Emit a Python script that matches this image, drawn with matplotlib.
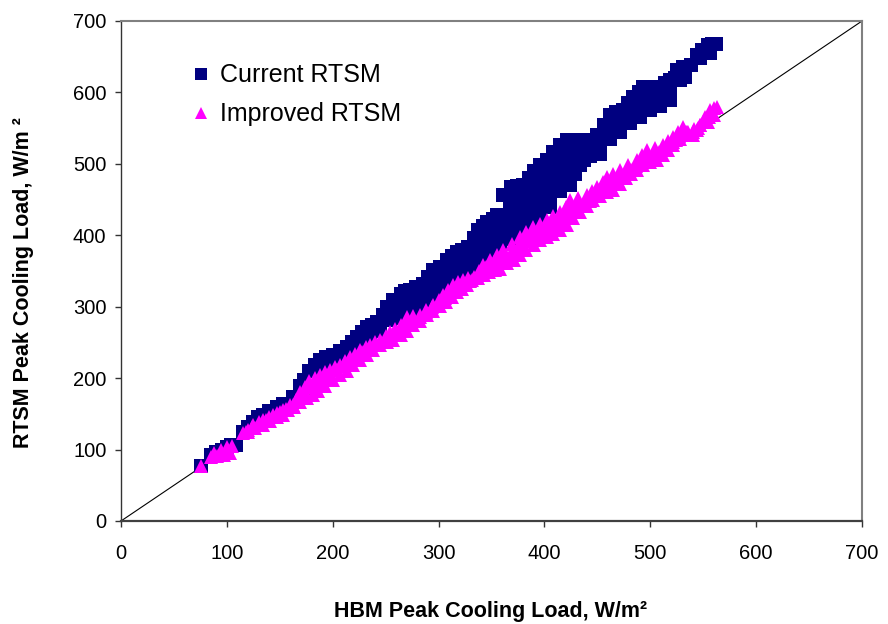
import matplotlib
matplotlib.use("Agg")
import matplotlib.pyplot as plt

# Current RTSM (navy squares) (top edge first, then rows below)
current_x = [76,
             85, 90, 95, 100, 104, 109,
             115, 120, 125, 129, 134, 140, 147, 153, 162, 169, 173, 178, 183, 188, 194, 200,
             207, 213, 218, 223, 228, 232, 237, 242, 247, 251, 257, 264, 268, 273, 279, 285,
             290, 295, 301, 308, 313, 317, 322, 328, 333, 337, 342, 346, 351, 355, 361, 368,
             374, 380, 385, 390, 396, 402, 408, 415, 421, 427, 432, 438, 443, 450, 456, 462,
             468, 474, 479, 484, 489, 493, 501, 509, 514, 519, 525, 531, 538, 544, 549, 554,
             558, 562,
             188, 197, 207, 216, 226, 235, 245, 254, 264, 273, 282, 291, 301, 310, 320, 329,
             339, 348, 358, 367, 377, 386, 396, 405, 415, 424, 434, 443, 452, 462, 471, 481,
             490, 500, 509, 519, 528, 533, 547, 556,
             264, 273, 282, 291, 301, 310, 320, 329, 339, 348, 358, 367, 377, 386, 396, 405,
             415, 424, 434, 443, 452, 462, 471, 481, 490, 500, 509, 519,
             339, 348, 358, 367, 377, 386, 396, 405, 415, 424,
             358, 367, 377, 386, 396, 405, 415, 424,
             343, 353, 362, 372, 381, 391, 400, 410, 419, 429, 437, 446, 457, 466, 476, 486,
             495, 505, 514, 523]
current_y = [77,
             92, 96, 100, 104, 107, 107,
             125, 131, 138, 145, 149, 154, 159, 164, 173, 189, 198, 210, 218, 225, 229, 233,
             238, 243, 250, 257, 264, 271, 275, 278, 288, 299, 309, 318, 322, 324, 328, 332,
             342, 351, 355, 366, 371, 376, 380, 383, 396, 408, 413, 418, 423, 428, 457, 467,
             469, 471, 480, 490, 499, 506, 516, 527, 533, 533, 533, 533, 533, 541, 555, 569,
             572, 575, 585, 593, 600, 607, 608, 608, 613, 618, 632, 635, 638, 652, 660, 666,
             668, 668,
             210, 216, 224, 234, 244, 252, 266, 282, 300, 307, 312, 322, 337, 348, 360, 366,
             392, 401, 425, 448, 452, 464, 481, 490, 509, 515, 515, 518, 527, 550, 558, 570,
             584, 590, 594, 602, 617, 622, 648, 655,
             284, 292, 296, 305, 319, 330, 342, 350, 374, 383, 407, 430, 434, 446, 463, 472,
             491, 497, 499, 511, 514, 535, 545, 557, 566, 575, 581, 590,
             360, 368, 390, 412, 416, 428, 445, 455, 473, 480,
             380, 395, 402, 412, 427, 440, 462, 470,
             385, 408, 420, 432, 437, 452, 470, 478, 492, 486, 505, 520, 535, 552, 565, 580,
             590, 598, 605, 620]

# Improved RTSM (magenta triangles): top row, bottom row, middle rows
improved_x = [76,
              85, 91, 97, 103, 88, 94, 100, 105,
              115, 120, 125, 130, 134, 140, 147, 153, 160, 165, 169, 174, 178, 183, 188, 193,
              197, 202, 207, 212, 216, 221, 226, 231, 235, 240, 245, 250, 254, 259, 264, 270,
              276, 282, 288, 295, 300, 304, 309, 314, 318, 323, 328, 333, 338, 342, 349, 355,
              361, 369, 377, 383, 389, 396, 402, 408, 415, 420, 424, 432, 440, 445, 450, 455,
              459, 465, 471, 479, 487, 492, 497, 504, 512, 517, 521, 526, 531, 536, 540, 544,
              547, 552, 556, 560, 563,
              120, 127, 134, 141, 147, 153, 158, 163, 169, 176, 181, 186, 193, 200, 207, 213,
              219, 226, 232, 238, 245, 251, 257, 264, 270, 276, 282, 289, 295, 301, 307, 313,
              317, 322, 327, 332, 337, 343, 348, 353, 358, 365, 371, 377, 383, 390, 396, 402,
              408, 415, 421, 427, 434, 440, 446, 452, 459, 465, 471, 477, 482, 487, 493, 500,
              506, 512, 517, 521, 528, 535, 541, 547, 554, 560,
              345, 352, 358, 364, 370, 377, 383, 389, 396, 402, 408, 415, 421, 427, 434, 440,
              447, 453, 459, 466, 472, 479, 486, 492, 499, 505, 512, 518, 524, 531,
              118, 124, 130, 137, 144, 150, 156, 162, 168, 174, 180, 186, 192, 198, 204, 210,
              216, 222, 228, 234, 240, 246, 252, 258, 264, 270, 276, 282, 288, 294, 300, 306,
              312, 318, 324, 330, 336, 341,
              348, 355, 361, 367, 374, 380, 386, 393, 399, 405, 411, 418, 424, 430, 437, 443,
              450, 456, 462, 469, 475, 482, 489, 495, 502, 508, 515, 521, 527, 534, 540, 545,
              550, 555]
improved_y = [77,
              90, 91, 92, 95, 95, 99, 103, 105,
              123, 128, 134, 138, 142, 146, 151, 156, 163, 170, 181, 188, 196, 200, 204, 208,
              211, 215, 219, 224, 229, 234, 239, 243, 246, 250, 254, 259, 264, 269, 274, 285,
              287, 289, 296, 303, 310, 316, 324, 331, 335, 338, 340, 341, 350, 359, 365, 372,
              379, 388, 397, 404, 411, 416, 422, 427, 432, 440, 449, 452, 456, 462, 468, 475,
              481, 486, 491, 498, 505, 512, 519, 522, 527, 532, 537, 544, 551, 545, 540, 548,
              555, 566, 576, 578, 579,
              125, 130, 135, 140, 145, 149, 155, 159, 166, 172, 177, 182, 189, 197, 204, 210,
              218, 226, 233, 240, 246, 250, 254, 261, 266, 274, 280, 288, 294, 301, 307, 314,
              320, 325, 331, 337, 340, 345, 348, 351, 353, 361, 366, 372, 380, 387, 393, 397,
              402, 408, 415, 424, 432, 441, 450, 455, 460, 464, 472, 480, 486, 492, 498, 503,
              506, 512, 519, 526, 535, 544, 549, 554, 558, 568,
              355, 362, 366, 372, 378, 385, 392, 398, 404, 410, 415, 420, 428, 437, 442, 448,
              456, 462, 469, 476, 481, 490, 497, 503, 510, 514, 519, 526, 533, 541,
              125, 131, 136, 142, 148, 152, 157, 163, 172, 180, 188, 194, 200, 205, 211, 217,
              223, 230, 236, 242, 246, 251, 256, 262, 268, 276, 281, 285, 292, 299, 306, 312,
              320, 327, 331, 336, 342, 350,
              356, 361, 366, 373, 381, 388, 395, 402, 407, 412, 417, 424, 432, 437, 442, 448,
              457, 464, 470, 476, 483, 491, 498, 505, 511, 516, 521, 530, 539, 545, 545, 550,
              558, 565]

x_ticks = [0, 100, 200, 300, 400, 500, 600, 700]
y_ticks = [0, 100, 200, 300, 400, 500, 600, 700]

plt.rcParams["font.family"] = ["Liberation Sans", "DejaVu Sans"]

fig = plt.figure(figsize=(8.88, 6.24), dpi=100)
ax = fig.add_axes([0.1363, 0.1651, 0.8345, 0.8013])

# 1:1 reference line
ax.plot([0, 700], [0, 700], color="black", linewidth=0.8, zorder=1)

ax.plot(current_x, current_y, linestyle="none", marker="s", markersize=10.5,
        color="#000080", markeredgewidth=0, label="Current RTSM", zorder=2)
ax.plot(improved_x, improved_y, linestyle="none", marker="^", markersize=10.5,
        color="#FF00FF", markeredgewidth=0, label="Improved RTSM", zorder=3)

ax.set_xlim(0, 700)
ax.set_ylim(0, 700)
ax.set_xticks(x_ticks)
ax.set_yticks(y_ticks)
ax.tick_params(axis="both", direction="out", length=4.5, width=1, colors="#333333",
               labelsize=14.5, labelcolor="black")
ax.tick_params(axis="x", pad=12)
ax.tick_params(axis="y", pad=6)

ax.spines["left"].set_color("#333333")
ax.spines["left"].set_linewidth(1.0)
ax.spines["bottom"].set_color("#404040")
ax.spines["bottom"].set_linewidth(1.6)
for side in ["top", "right"]:
    ax.spines[side].set_color("#808080")
    ax.spines[side].set_linewidth(1.5)

ax.set_xlabel("HBM Peak Cooling Load, W/m²", fontsize=15.5, fontweight="bold", va="center")
ax.set_ylabel("RTSM Peak Cooling Load, W/m ²", fontsize=15.5, fontweight="bold", va="center")
ax.xaxis.set_label_coords(0.498, -0.182)
ax.yaxis.set_label_coords(-0.132, 0.476)

ax.legend(loc="upper left", bbox_to_anchor=(0.096, 0.915), frameon=False, fontsize=18,
          markerscale=0.87, handlelength=0.7, handletextpad=0.4, labelspacing=0.6,
          borderpad=0, borderaxespad=0)

plt.savefig("out.png", dpi=100)
